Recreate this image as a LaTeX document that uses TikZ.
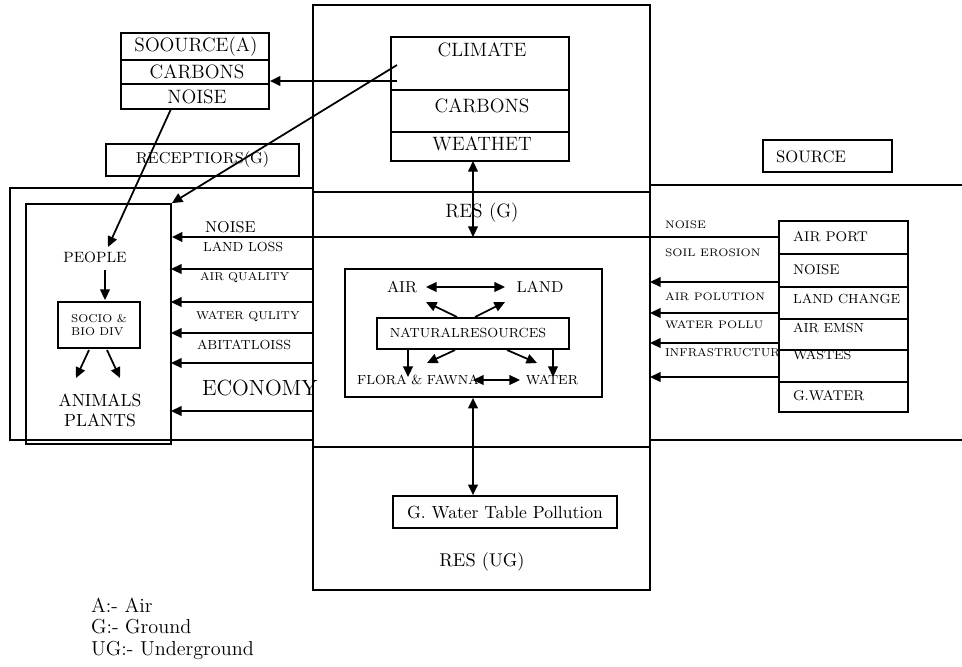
\documentclass[tikz,border=0pt]{standalone}
\usetikzlibrary{fit,arrows.meta}
\tikzset{
  frame/.style={draw, line width=1pt, inner sep=0pt},
  wframe/.style={draw, fill=white, line width=1pt, inner sep=0pt},
  ln/.style={line width=1pt},
  arr/.style={-{Triangle[length=6pt,width=5.5pt]}, line width=1pt},
  darr/.style={{Triangle[length=6pt,width=5.5pt]}-{Triangle[length=6pt,width=5.5pt]}, line width=1pt},
  lbl/.style={inner sep=0pt, outer sep=0pt},
}
\newcommand{\fs}[1]{\fontsize{#1}{#1}\selectfont}
\begin{document}
\begin{tikzpicture}[x=0.02cm,y=-0.02cm]
\useasboundingbox (0,0) rectangle (962,666);

% ---- main frames
\node[frame, fit={(313,5)(650,590)}] (col) {};
\draw[ln] (313,192) -- (650,192);
\draw[ln] (313,447) -- (650,447);
\node[frame, fit={(10,188)(313,440)}] (lout) {};
\node[frame, fit={(26,204)(171,444)}] (lin) {};
\draw[ln] (650,185) -- (962,185);
\draw[ln] (650,440) -- (962,440);

% ---- source (A)
\node[frame, fit={(121,33)(269,109)}] (srcA) {};
\draw[ln] (121,60) -- (269,60);
\draw[ln] (121,84) -- (269,84);
\node[lbl] (sa1) at (196,47) {\fs{11}SOOURCE(A)};
\node[lbl] (sa2) at (197,72) {\fs{11}CARBONS};
\node[lbl] (sa3) at (197,97) {\fs{11}NOISE};

% ---- receptiors
\node[frame, fit={(106,144)(299,176)}] (rec) {};
\node[lbl] at (rec.center) {\fs{9}RECEPTIORS(G)};

% ---- climate
\node[frame, fit={(391,37)(569,161)}] (clim) {};
\draw[ln] (391,90) -- (569,90);
\draw[ln] (391,132) -- (569,132);
\node[lbl] (cl1) at (482,50) {\fs{11}CLIMATE};
\node[lbl] (cl2) at (482,106) {\fs{11}CARBONS};
\node[lbl] (cl3) at (482,144) {\fs{11}WEATHET};
\coordinate (cA) at (397,81);
\coordinate (cB) at (397,65);
\draw[arr] (cA) -- (cA -| srcA.east);
\draw[arr] (cB) -- (lin.north east);

% noise -> people
\node[lbl] (people) at (95,257) {\fs{8.5}PEOPLE};
\coordinate (nz) at (171,109);
\draw[arr] (nz) -- (108,247);

% ---- RES (G)
\node[lbl] (resg) at (482,213) {\fs{11}RES (G)};
\draw[darr] (473,161) -- (473,237);

% ---- natural resources
\node[frame, fit={(345,269)(602,397)}] (nat) {};
\node[lbl] (air) at (402,287) {\fs{9}AIR};
\node[lbl] (land) at (540,287) {\fs{9}LAND};
\draw[darr] (426,287) -- (505,287);
\node[frame, fit={(377,318)(569,349)}] (nr) {};
\node[lbl] at (468,333) {\fs{7.5}NATURALRESOURCES};
\draw[arr] (457,317) -- (426,302);
\draw[arr] (475,317) -- (505,302);
\draw[arr] (455,350) -- (427,363);
\draw[arr] (507,350) -- (537,363);
\draw[arr] (408,349) -- (408,377);
\draw[arr] (553,349) -- (553,377);
\node[lbl] (flora) at (418,380) {\fs{7.5}FLORA \& FAWNA};
\node[lbl] (water) at (552,380) {\fs{7.5}WATER};
\draw[darr] (473,380) -- (520,380);

% ---- underground
\node[frame, fit={(393,496)(617,528)}] (gw) {};
\node[lbl] at (gw.center) {\fs{10}G. Water Table Pollution};
\coordinate (vx) at (473,0);
\draw[darr] (nat.south -| vx) -- (gw.north -| vx);
\node[lbl] (resug) at (482,562) {\fs{10.5}RES (UG)};

% ---- left labels
\node[lbl, anchor=west] at (205,227) {\fs{9}NOISE};
\node[lbl, anchor=west] at (203,247) {\fs{7.5}LAND LOSS};
\node[lbl, anchor=west] at (200,278) {\fs{6.5}AIR QUALITY};
\node[lbl, anchor=west] at (196,317) {\fs{6.5}WATER QULITY};
\node[lbl, anchor=west] at (197,345) {\fs{7.5}ABITATLOISS};
\node[lbl, anchor=west] at (202,388) {\fs{12.5}ECONOMY};
\foreach \yy in {269,302,333,363,411}{
  \draw[arr] (313,\yy) -- (171,\yy);
}

% ---- inner left
\draw[arr] (105,270) -- (105,300);
\node[frame, fit={(58,302)(140,348)}] (socio) {};
\node[lbl, align=left, font=\fontsize{6.5}{7.5}\selectfont] at (socio.center) {SOCIO \&\\BIO DIV};
\draw[arr] (89,350) -- (76,378);
\draw[arr] (107,350) -- (120,378);
\node[lbl] (animals) at (100,400) {\fs{10}ANIMALS};
\node[lbl] (plants) at (100,420) {\fs{10}PLANTS};

% ---- right side
\node[frame, fit={(763,140)(892,172)}] (srcbox) {};
\node[lbl, anchor=west] at (776,157) {\fs{9.5}SOURCE};
\node[lbl, anchor=west] at (665,225) {\fs{6.2}NOISE};
\node[lbl, anchor=west] at (665,253) {\fs{6.2}SOIL EROSION};
\node[lbl, anchor=west] at (665,297) {\fs{6.2}AIR POLUTION};
\node[lbl, anchor=west] at (665,325) {\fs{6.2}WATER POLLU};
\node[lbl, anchor=west] at (665,353) {\fs{6.5}INFRASTRUCTURE};
\node[wframe, fit={(779,221)(908,412)}] (slist) {};
\foreach \yy in {254,287,319,350,382}{
  \draw[ln] (779,\yy) -- (908,\yy);
}
\node[lbl, anchor=west] at (793,237) {\fs{8}AIR PORT};
\node[lbl, anchor=west] at (793,270) {\fs{8}NOISE};
\node[lbl, anchor=west] at (793,299) {\fs{7.5}LAND CHANGE};
\node[lbl, anchor=west] at (793,328) {\fs{7.5}AIR EMSN};
\node[lbl, anchor=west] at (793,355) {\fs{7.5}WASTES};
\node[lbl, anchor=west] at (793,396) {\fs{8}G.WATER};
\coordinate (ny) at (0,237);
\draw[arr] (slist.west |- ny) -- (lin.east |- ny);
\foreach \yy in {282,313,343,377}{
  \draw[arr] (779,\yy) -- (650,\yy);
}

% ---- legend
\node[lbl, anchor=west] at (91,605) {\fs{11.5}A:- Air};
\node[lbl, anchor=west] at (91,627) {\fs{11.5}G:- Ground};
\node[lbl, anchor=west] at (91,650) {\fs{11.5}UG:- Underground};
\end{tikzpicture}
\end{document}
